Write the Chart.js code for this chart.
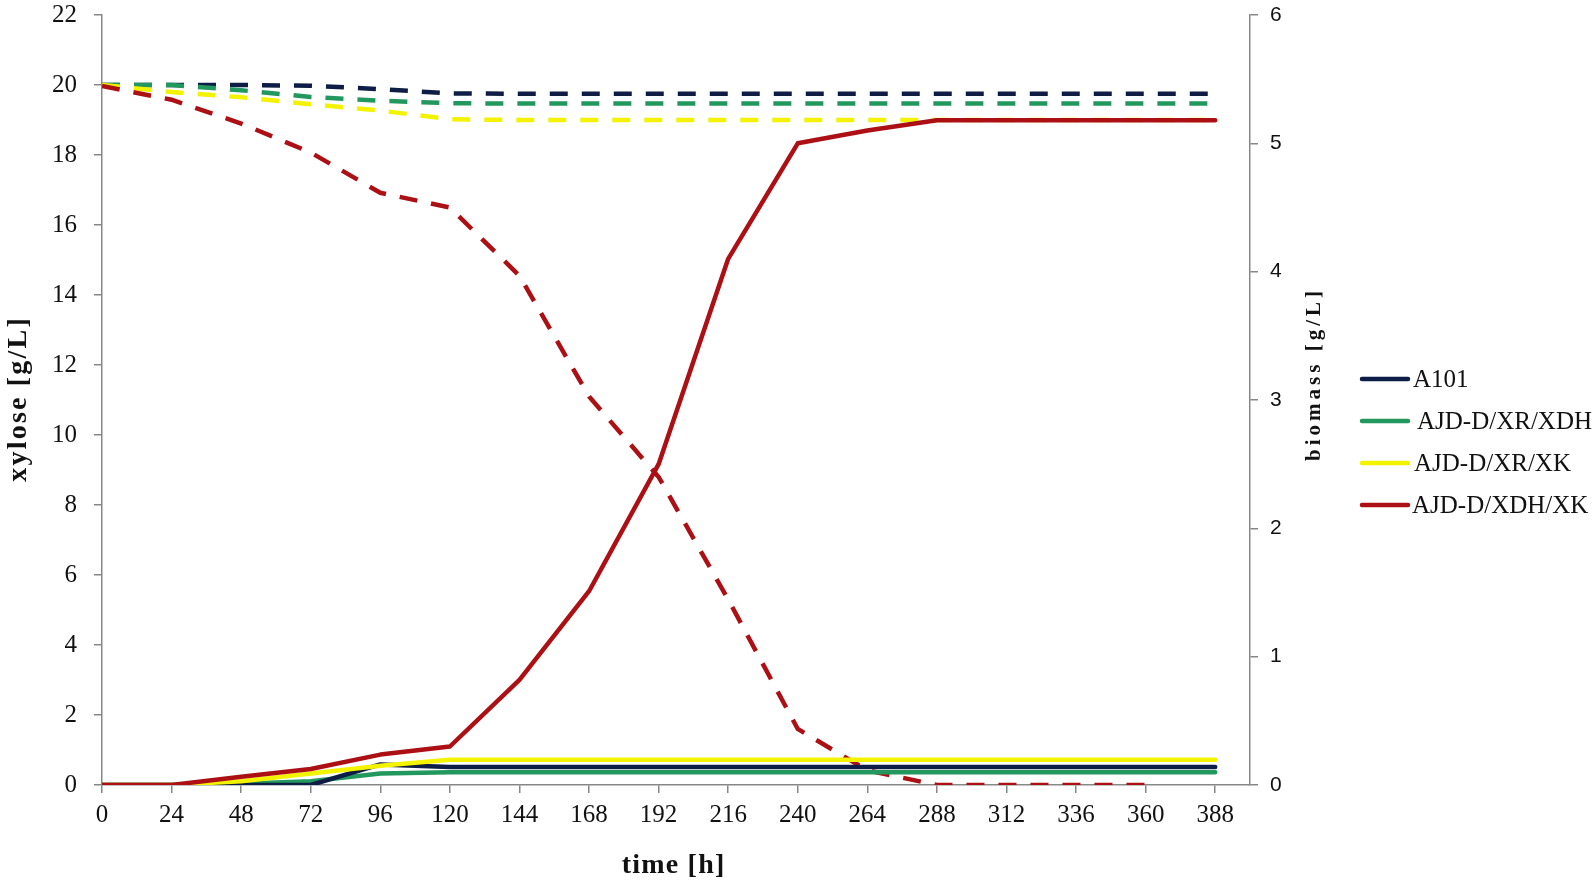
<!DOCTYPE html>
<html>
<head>
<meta charset="utf-8">
<script src="https://cdn.jsdelivr.net/npm/chart.js@4/dist/chart.umd.min.js"></script>
<style>
html,body{margin:0;padding:0;background:#fff;overflow:hidden}
#wrap{width:1593px;height:884px;position:relative}
</style>
</head>
<body>
<div id="wrap"><canvas id="c" width="1593" height="884"></canvas></div>
<script>
// ---- data ----
const timeLabels = ['0','24','48','72','96','120','144','168','192','216','240','264','288','312','336','360','388'];
const strainNames = ['A101','AJD-D/XR/XDH','AJD-D/XR/XK','AJD-D/XDH/XK'];
const leftTicks = [0,2,4,6,8,10,12,14,16,18,20,22];
const rightTicks = [0,1,2,3,4,5,6];

// xylose [g/L] (left axis, dashed)
const xyloseA101  = [20,20,20,19.98,19.88,19.76,19.75,19.75,19.75,19.75,19.75,19.75,19.75,19.75,19.75,19.75,19.75];
const xyloseXRXDH = [20,20,19.85,19.66,19.55,19.48,19.47,19.47,19.47,19.47,19.47,19.47,19.47,19.47,19.47,19.47,19.47];
const xyloseXRXK  = [20,19.8,19.65,19.45,19.27,19.02,19.0,19.0,19.0,19.0,19.0,19.0,19.0,19.0,19.0,19.0,19.0];
const xyloseXDHXK = [19.97,19.58,18.9,18.07,16.92,16.5,14.55,11.1,8.8,5.3,1.6,0.42,0,0,0,0,null];

// biomass [g/L] (right axis, solid)
const biomassA101  = [0,0,0,0,0.16,0.14,0.14,0.14,0.14,0.14,0.14,0.14,0.14,0.14,0.14,0.14,0.14];
const biomassXRXDH = [0,0,0.01,0.03,0.09,0.1,0.1,0.1,0.1,0.1,0.1,0.1,0.1,0.1,0.1,0.1,0.1];
const biomassXRXK  = [0,0,0.03,0.09,0.15,0.197,0.197,0.197,0.197,0.197,0.197,0.197,0.197,0.197,0.197,0.197,0.197];
const biomassXDHXK = [0,0,0.065,0.125,0.237,0.30,0.82,1.51,2.5,4.1,5.0,5.1,5.18,5.18,5.18,5.18,5.18];

// ---- styles ----
const colors = ['#0e1d45','#22985f','#f3f300','#ac1014'];
const SERIF = "'Liberation Serif','Times New Roman',serif";
const SANS = "'Liberation Sans',Arial,sans-serif";
const AXIS = '#878787';

const toXY = arr => arr.map((v,i)=>({x:i,y:v}));
const xylose = [xyloseA101, xyloseXRXDH, xyloseXRXK, xyloseXDHXK];
const biomass = [biomassA101, biomassXRXDH, biomassXRXK, biomassXDHXK];
const solidOrder = [2,3,1,0];
const dashOrder = [7,6,5,4];

const datasets = [];
strainNames.forEach((name,i)=>{
  datasets.push({label:name+' xylose', data:toXY(xylose[i]), yAxisID:'yL', borderColor:colors[i],
    borderWidth:4.5, borderDash:[18,14], borderCapStyle:'butt', pointRadius:0, tension:0, fill:false, order:dashOrder[i]});
});
strainNames.forEach((name,i)=>{
  datasets.push({label:name, data:toXY(biomass[i]), yAxisID:'yR', borderColor:colors[i],
    borderWidth:4.5, borderCapStyle:'round', borderJoinStyle:'round', pointRadius:0, tension:0, fill:false, order:solidOrder[i]});
});

function drawSpaced(ctx, text, cx, cy, spacing){
  const chars = [...text];
  const widths = chars.map(c=>ctx.measureText(c).width);
  const total = widths.reduce((a,b)=>a+b,0) + spacing*(chars.length-1);
  let x = cx - total/2;
  ctx.textAlign = 'left';
  chars.forEach((c,k)=>{ ctx.fillText(c, x, cy); x += widths[k] + spacing; });
}

const decor = {
  id:'decor',
  afterDraw(chart){
    const ctx = chart.ctx;
    ctx.save();
    ctx.fillStyle = '#111';
    ctx.textBaseline = 'middle';
    // x title
    ctx.font = "bold 28px " + SERIF;
    drawSpaced(ctx, 'time [h]', 673, 866, 1.2);
    // left title
    ctx.save();
    ctx.translate(19, 400);
    ctx.rotate(-Math.PI/2);
    ctx.font = "bold 28px " + SERIF;
    drawSpaced(ctx, 'xylose [g/L]', 0, 0, 2.2);
    ctx.restore();
    // right title
    ctx.save();
    ctx.translate(1315, 376);
    ctx.rotate(-Math.PI/2);
    ctx.font = "bold 21px " + SERIF;
    drawSpaced(ctx, 'biomass [g/L]', 0, 0, 4);
    ctx.restore();
    // legend
    const rowsY = [379, 421, 463, 505];
    const textX = [1413, 1417, 1414, 1412];
    ctx.font = "25px " + SERIF;
    strainNames.forEach((name,i)=>{
      ctx.strokeStyle = colors[i];
      ctx.lineWidth = 4.5;
      ctx.lineCap = 'round';
      ctx.beginPath();
      ctx.moveTo(1362, rowsY[i]);
      ctx.lineTo(1408, rowsY[i]);
      ctx.stroke();
      ctx.textAlign = 'left';
      ctx.fillText(name, textX[i], rowsY[i]+1);
    });
    ctx.restore();
  }
};

new Chart(document.getElementById('c'), {
  type:'line',
  data:{datasets},
  options:{
    responsive:false,
    animation:false,
    devicePixelRatio:1,
    layout:{padding:{top:15,left:0,right:0,bottom:0}},
    plugins:{legend:{display:false}, tooltip:{enabled:false}},
    scales:{
      x:{
        type:'linear', position:'bottom', min:0, max:16.5,
        afterBuildTicks: s => { s.ticks = timeLabels.map((_,i)=>({value:i})); },
        afterFit: s => { s.height = 99; s.paddingLeft = 0; s.paddingRight = 0; },
        ticks:{autoSkip:false, maxRotation:0, padding:7, color:'#111', font:{family:SERIF, size:25},
          callback: v => timeLabels[v]},
        grid:{drawOnChartArea:false, drawTicks:true, tickLength:8, color:AXIS, lineWidth:1.5},
        border:{color:AXIS, width:1.5}
      },
      yL:{
        type:'linear', position:'left', min:0, max:22,
        afterBuildTicks: s => { s.ticks = leftTicks.map(v=>({value:v})); },
        afterFit: s => { s.width = 102; s.paddingTop = 0; s.paddingBottom = 0; },
        ticks:{padding:17, color:'#111', font:{family:SERIF, size:25}},
        grid:{drawOnChartArea:false, drawTicks:true, tickLength:8, color:AXIS, lineWidth:1.5},
        border:{color:AXIS, width:1.5}
      },
      yR:{
        type:'linear', position:'right', min:0, max:6,
        afterBuildTicks: s => { s.ticks = rightTicks.map(v=>({value:v})); },
        afterFit: s => { s.width = 343; s.paddingTop = 0; s.paddingBottom = 0; },
        ticks:{padding:12, color:'#111', font:{family:SANS, size:21}},
        grid:{drawOnChartArea:false, drawTicks:true, tickLength:8, color:AXIS, lineWidth:1.5},
        border:{color:AXIS, width:1.5}
      }
    }
  },
  plugins:[decor]
});
</script>
</body>
</html>
